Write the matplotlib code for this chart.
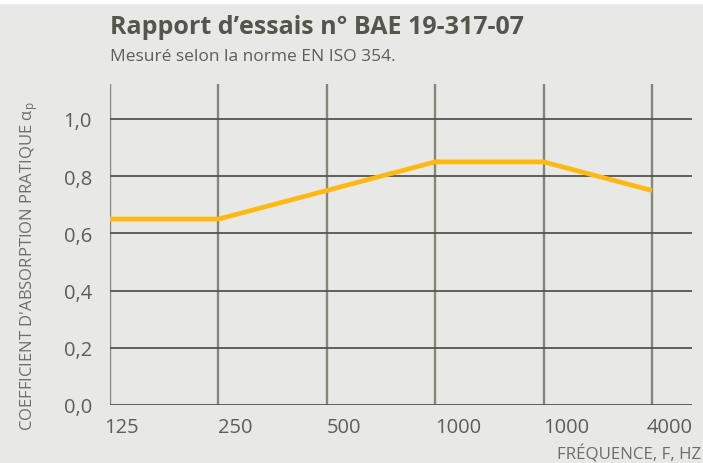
import matplotlib
matplotlib.use("Agg")
import matplotlib.pyplot as plt

# essai BAE 19-317-07 : coefficient d'absorption pratique par bande d'octave
frequences = ["125", "250", "500", "1000", "1000", "4000"]
alpha_p = [0.65, 0.65, 0.75, 0.85, 0.85, 0.75]
y_ticks = [0.0, 0.2, 0.4, 0.6, 0.8, 1.0]
y_labels = ["0,0", "0,2", "0,4", "0,6", "0,8", "1,0"]

bg = "#e8e8e6"
txt = "#5e5e55"
plt.rcParams["font.family"] = ["Open Sans", "DejaVu Sans"]
plt.rcParams["mathtext.fontset"] = "custom"
plt.rcParams["mathtext.rm"] = "Open Sans"
plt.rcParams["mathtext.it"] = "Open Sans"

fig = plt.figure(figsize=(7.03, 4.64), dpi=100, facecolor=bg)
# thin white strip along the top edge
fig.patches.append(plt.Rectangle((0, 1 - 4 / 464), 1, 4 / 464, transform=fig.transFigure,
                                 color="white", zorder=0))

ax = fig.add_axes([110 / 703, 58 / 464, 582 / 703, 321 / 464])
ax.set_facecolor(bg)
x = list(range(len(frequences)))
step = 108.4
ax.set_xlim(0, 582 / step)
ax.set_ylim(0, 321 / 286)

for xi in x:
    ax.axvline(xi, color="#85857b", lw=1.7, zorder=1)
for yv in y_ticks:
    ax.axhline(yv, color="#55554c", lw=1.3, zorder=1)

ax.plot(x, alpha_p, color="#fdb913", lw=3.4, solid_capstyle="butt", zorder=3)

for s in ax.spines.values():
    s.set_visible(False)
ax.tick_params(length=0)
ax.set_yticks(y_ticks)
ax.set_yticklabels(y_labels, fontsize=14.5, color=txt)
ax.tick_params(axis="y", pad=13)
ax.set_xticks([])
for xi, lab in zip(x, frequences):
    ax.annotate(lab, (xi, 0), xytext=(-4 if xi in (0, 5) else 0, -9),
                textcoords="offset points", ha="left", va="top",
                fontsize=14.5, color=txt, annotation_clip=False)

fig.text(110 / 703, 1 - 28 / 464, "Rapport d\u2019essais n\u00b0 BAE 19-317-07",
         fontsize=18, fontweight="bold", color="#55554c", va="center")
fig.text(110 / 703, 1 - 57 / 464, "Mesur\u00e9 selon la norme EN ISO 354.",
         fontsize=12.5, color=txt, va="center")
fig.text(29 / 703, 1 - 266 / 464,
         r"COEFFICIENT D'ABSORPTION PRATIQUE $\mathregular{\alpha_p}$",
         rotation=90, fontsize=12, color="#6e6e65", ha="center", va="center")
fig.text(701 / 703, 1 - 455 / 464, "FR\u00c9QUENCE, F, HZ",
         fontsize=12.2, color="#6e6e65", ha="right", va="center")

fig.savefig("out.png", dpi=100, facecolor=bg)
